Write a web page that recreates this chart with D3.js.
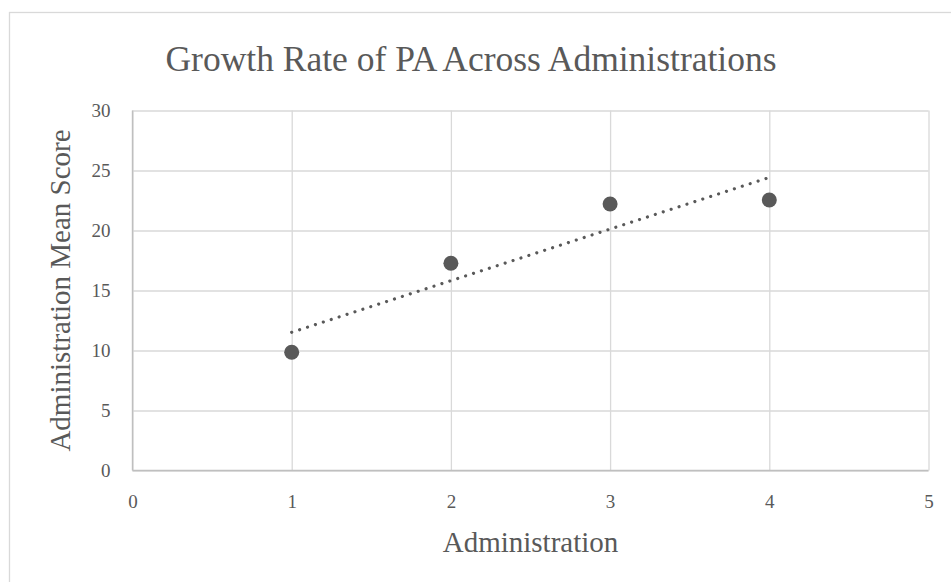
<!DOCTYPE html>
<html>
<head>
<meta charset="utf-8">
<script src="https://cdn.jsdelivr.net/npm/d3@7"></script>
<style>
  html, body { margin: 0; padding: 0; background: #ffffff; }
  svg { display: block; }
</style>
</head>
<body>
<svg id="chart" width="951" height="582"></svg>
<script>
// ---- data ----
const administrations = [1, 2, 3, 4];
const meanScores = [9.85, 17.27, 22.21, 22.54];
const xTicks = [0, 1, 2, 3, 4, 5];
const yTicks = [0, 5, 10, 15, 20, 25, 30];
const titleText = "Growth Rate of PA Across Administrations";
const xTitle = "Administration";
const yTitle = "Administration Mean Score";

// ---- layout ----
const W = 951, H = 582;
const plot = { left: 132.5, right: 928.5, top: 110.5, bottom: 470.5 };
const textColor = "#595959";
const gridColor = "#d9d9d9";
const markColor = "#595959";
const tickFont = "'Liberation Serif', 'Times New Roman', serif";
const titleFont = "'Liberation Serif', 'Times New Roman', serif";

const svg = d3.select("#chart");

// chart frame
svg.append("rect")
  .attr("x", 9.5).attr("y", 12.5)
  .attr("width", W + 20).attr("height", H + 20)
  .attr("fill", "#ffffff")
  .attr("stroke", gridColor).attr("stroke-width", 1.3);

const x = d3.scaleLinear().domain([0, 5]).range([plot.left, plot.right]);
const y = d3.scaleLinear().domain([0, 30]).range([plot.bottom, plot.top]);

// horizontal gridlines + y labels
const yAxis = svg.append("g")
  .attr("transform", `translate(${plot.left},0)`)
  .call(d3.axisLeft(y).tickValues(yTicks).tickSize(-(plot.right - plot.left)).tickPadding(22).tickFormat(d3.format("d")));
yAxis.select(".domain").remove();
yAxis.selectAll(".tick line").attr("stroke", gridColor).attr("stroke-width", 1.3);
yAxis.selectAll(".tick text")
  .attr("fill", textColor)
  .style("font-family", tickFont)
  .style("font-size", "19px");

// vertical gridlines + x labels
const xAxis = svg.append("g")
  .attr("transform", `translate(0,${plot.bottom})`)
  .call(d3.axisBottom(x).tickValues(xTicks).tickSize(-(plot.bottom - plot.top)).tickPadding(24).tickFormat(d3.format("d")));
xAxis.select(".domain").remove();
xAxis.selectAll(".tick line").attr("stroke", gridColor).attr("stroke-width", 1.3);
xAxis.selectAll(".tick text")
  .attr("fill", textColor)
  .style("font-family", tickFont)
  .style("font-size", "19px");

// axis lines
svg.append("line")
  .attr("x1", plot.left).attr("x2", plot.right)
  .attr("y1", y(0)).attr("y2", y(0))
  .attr("stroke", "#bfbfbf").attr("stroke-width", 1.4);
svg.append("line")
  .attr("x1", x(0)).attr("x2", x(0))
  .attr("y1", plot.top).attr("y2", plot.bottom)
  .attr("stroke", "#bfbfbf").attr("stroke-width", 1.4);

// linear trendline (least squares from the data)
const n = administrations.length;
const mx = d3.mean(administrations), my = d3.mean(meanScores);
let sxy = 0, sxx = 0;
for (let i = 0; i < n; i++) {
  sxy += (administrations[i] - mx) * (meanScores[i] - my);
  sxx += (administrations[i] - mx) ** 2;
}
const slope = sxy / sxx, intercept = my - slope * mx;
const xMin = d3.min(administrations), xMax = d3.max(administrations);
const trend = [[xMin, intercept + slope * xMin], [xMax, intercept + slope * xMax]];
svg.append("path")
  .attr("d", d3.line().x(d => x(d[0])).y(d => y(d[1]))(trend))
  .attr("fill", "none")
  .attr("stroke", markColor)
  .attr("stroke-width", 3.2)
  .attr("stroke-linecap", "round")
  .attr("stroke-dasharray", "0.01 8.3");

// points
svg.append("g").selectAll("circle")
  .data(administrations.map((a, i) => [a, meanScores[i]]))
  .join("circle")
  .attr("cx", d => x(d[0]))
  .attr("cy", d => y(d[1]))
  .attr("r", 7.5)
  .attr("fill", markColor);

// title
svg.append("text")
  .attr("x", 471).attr("y", 71)
  .attr("text-anchor", "middle")
  .attr("fill", textColor)
  .style("font-family", titleFont)
  .style("font-size", "35.5px")
  .text(titleText);

// x axis title
svg.append("text")
  .attr("x", (plot.left + plot.right) / 2).attr("y", 552)
  .attr("text-anchor", "middle")
  .attr("fill", textColor)
  .style("font-family", titleFont)
  .style("font-size", "29px")
  .text(xTitle);

// y axis title
svg.append("text")
  .attr("transform", `translate(70,${(plot.top + plot.bottom) / 2}) rotate(-90)`)
  .attr("text-anchor", "middle")
  .attr("fill", textColor)
  .style("font-family", titleFont)
  .style("font-size", "29px")
  .text(yTitle);
</script>
</body>
</html>
